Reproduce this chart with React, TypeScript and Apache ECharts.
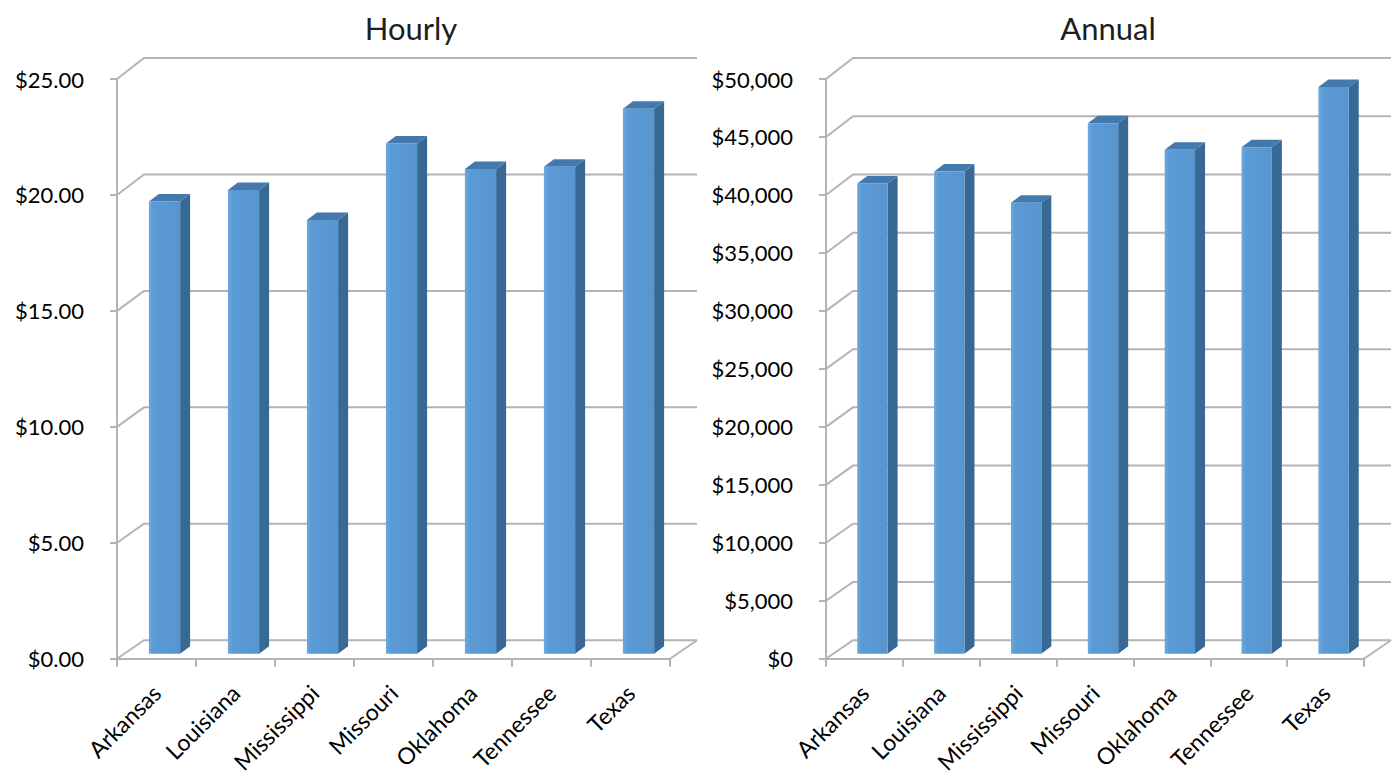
import React, { useEffect, useRef } from "react";
import * as echarts from "echarts";

const categories = ["Arkansas", "Louisiana", "Mississippi", "Missouri", "Oklahoma", "Tennessee", "Texas"];
const hourlyValues = [19.5, 20.0, 18.7, 22.0, 20.9, 21.0, 23.5];
const annualValues = [40560, 41600, 38900, 45760, 43470, 43680, 48880];
const hourlyTicks = [0, 5, 10, 15, 20, 25];
const annualTicks = [0, 5000, 10000, 15000, 20000, 25000, 30000, 35000, 40000, 45000, 50000];
const titles = ["Hourly", "Annual"];

const FONT = "Lato, 'Open Sans', sans-serif";
const GRID_COLOR = "#b4b4b4";
const DEPTH_DX = 27;
const FRONT = "#5b9bd5";
const SIDE = "#386994";
const TOP = "#4479ad";

function gridRender(params: any, api: any) {
  const v = api.value(1);
  const cs = params.coordSys;
  const p = api.coord([0, v]);
  const y = p[1];
  const frac = (cs.y + cs.height - y) / cs.height;
  const dy = -18.5 - 2.5 * frac;
  const x0 = cs.x;
  const x1 = cs.x + cs.width;
  const style = { stroke: GRID_COLOR, lineWidth: 2, fill: "none" };
  const children: any[] = [
    {
      type: "polyline",
      shape: { points: [[x0, y], [x0 + DEPTH_DX, y + dy], [x1 + DEPTH_DX, y + dy]] },
      style,
    },
  ];
  if (v === 0) {
    children.push({
      type: "line",
      shape: { x1: x1, y1: y, x2: x1 + DEPTH_DX, y2: y + dy },
      style,
    });
  }
  return { type: "group", children };
}

function barRender(params: any, api: any) {
  const i = api.value(0);
  const v = api.value(1);
  const base = api.coord([i, 0]);
  const top = api.coord([i, v]);
  const w = api.size([1, 0])[0] * 0.395;
  const cx = base[0] + 8;
  const by = base[1] - 5;
  const ty = top[1] - 5;
  const l = cx - w / 2;
  const r = cx + w / 2;
  const sdx = 10;
  const sdy = -7.5;
  return {
    type: "group",
    children: [
      {
        type: "polygon",
        shape: { points: [[r, by], [r + sdx, by + sdy], [r + sdx, ty + sdy], [r, ty]] },
        style: { fill: SIDE },
      },
      {
        type: "polygon",
        shape: { points: [[l, ty], [l + sdx, ty + sdy], [r + sdx, ty + sdy], [r, ty]] },
        style: { fill: TOP },
      },
      {
        type: "rect",
        shape: { x: l, y: ty, width: w, height: by - ty },
        style: {
          fill: new echarts.graphic.LinearGradient(0, 0, 1, 0, [
            { offset: 0, color: "#6ea8dc" },
            { offset: 0.15, color: FRONT },
            { offset: 1, color: "#5895cf" },
          ]),
        },
      },
    ],
  };
}

export default function App() {
  const ref = useRef<HTMLDivElement>(null);
  useEffect(() => {
    if (!ref.current) return;
    const chart = echarts.init(ref.current, undefined, { renderer: "svg" });
    const grids = [
      { left: 117, top: 79, width: 553, height: 580 },
      { left: 826, top: 79, width: 538, height: 580 },
    ];
    const xAxis = [0, 1].map((g) => ({
      type: "category",
      gridIndex: g,
      data: categories,
      boundaryGap: true,
      axisLine: { show: true, lineStyle: { color: GRID_COLOR, width: 2 } },
      axisTick: { show: true, length: 8, lineStyle: { color: GRID_COLOR, width: 2 } },
      axisLabel: { rotate: 45, fontSize: 23, fontFamily: FONT, color: "#000", margin: 30, interval: 0 },
      splitLine: { show: false },
    }));
    const yAxis = [
      {
        type: "value",
        gridIndex: 0,
        min: 0,
        max: 25,
        interval: 5,
        axisLine: { show: true, lineStyle: { color: GRID_COLOR, width: 2 } },
        axisTick: { show: true, length: 7, lineStyle: { color: GRID_COLOR, width: 2 } },
        axisLabel: {
          fontSize: 22,
          fontFamily: FONT,
          color: "#000",
          margin: 33,
          formatter: (v: number) => "$" + v.toFixed(2),
        },
        splitLine: { show: false },
      },
      {
        type: "value",
        gridIndex: 1,
        min: 0,
        max: 50000,
        interval: 5000,
        axisLine: { show: true, lineStyle: { color: GRID_COLOR, width: 2 } },
        axisTick: { show: true, length: 7, lineStyle: { color: GRID_COLOR, width: 2 } },
        axisLabel: {
          fontSize: 22,
          fontFamily: FONT,
          color: "#000",
          margin: 33,
          formatter: (v: number) => "$" + v.toLocaleString("en-US"),
        },
        splitLine: { show: false },
      },
    ];
    const series: any[] = [
      {
        type: "custom",
        xAxisIndex: 0,
        yAxisIndex: 0,
        clip: false,
        z: 1,
        renderItem: gridRender,
        data: hourlyTicks.map((t) => [0, t]),
      },
      {
        type: "custom",
        xAxisIndex: 1,
        yAxisIndex: 1,
        clip: false,
        z: 1,
        renderItem: gridRender,
        data: annualTicks.map((t) => [0, t]),
      },
      {
        type: "custom",
        xAxisIndex: 0,
        yAxisIndex: 0,
        clip: false,
        z: 3,
        renderItem: barRender,
        data: hourlyValues.map((v, i) => [i, v]),
      },
      {
        type: "custom",
        xAxisIndex: 1,
        yAxisIndex: 1,
        clip: false,
        z: 3,
        renderItem: barRender,
        data: annualValues.map((v, i) => [i, v]),
      },
    ];
    chart.setOption({
      animation: false,
      backgroundColor: "#ffffff",
      grid: grids,
      xAxis,
      yAxis,
      series,
      graphic: [
        {
          type: "text",
          x: 411,
          y: 28,
          style: {
            text: titles[0],
            fontSize: 31,
            fontFamily: FONT,
            fill: "#1e1e1e",
            textAlign: "center",
            textVerticalAlign: "middle",
          },
        },
        {
          type: "text",
          x: 1108,
          y: 28,
          style: {
            text: titles[1],
            fontSize: 31,
            fontFamily: FONT,
            fill: "#1e1e1e",
            textAlign: "center",
            textVerticalAlign: "middle",
          },
        },
      ],
    });
    return () => chart.dispose();
  }, []);
  return (
    <div
      ref={ref}
      style={{ position: "fixed", left: 0, top: 0, width: 1395, height: 776 }}
    />
  );
}
